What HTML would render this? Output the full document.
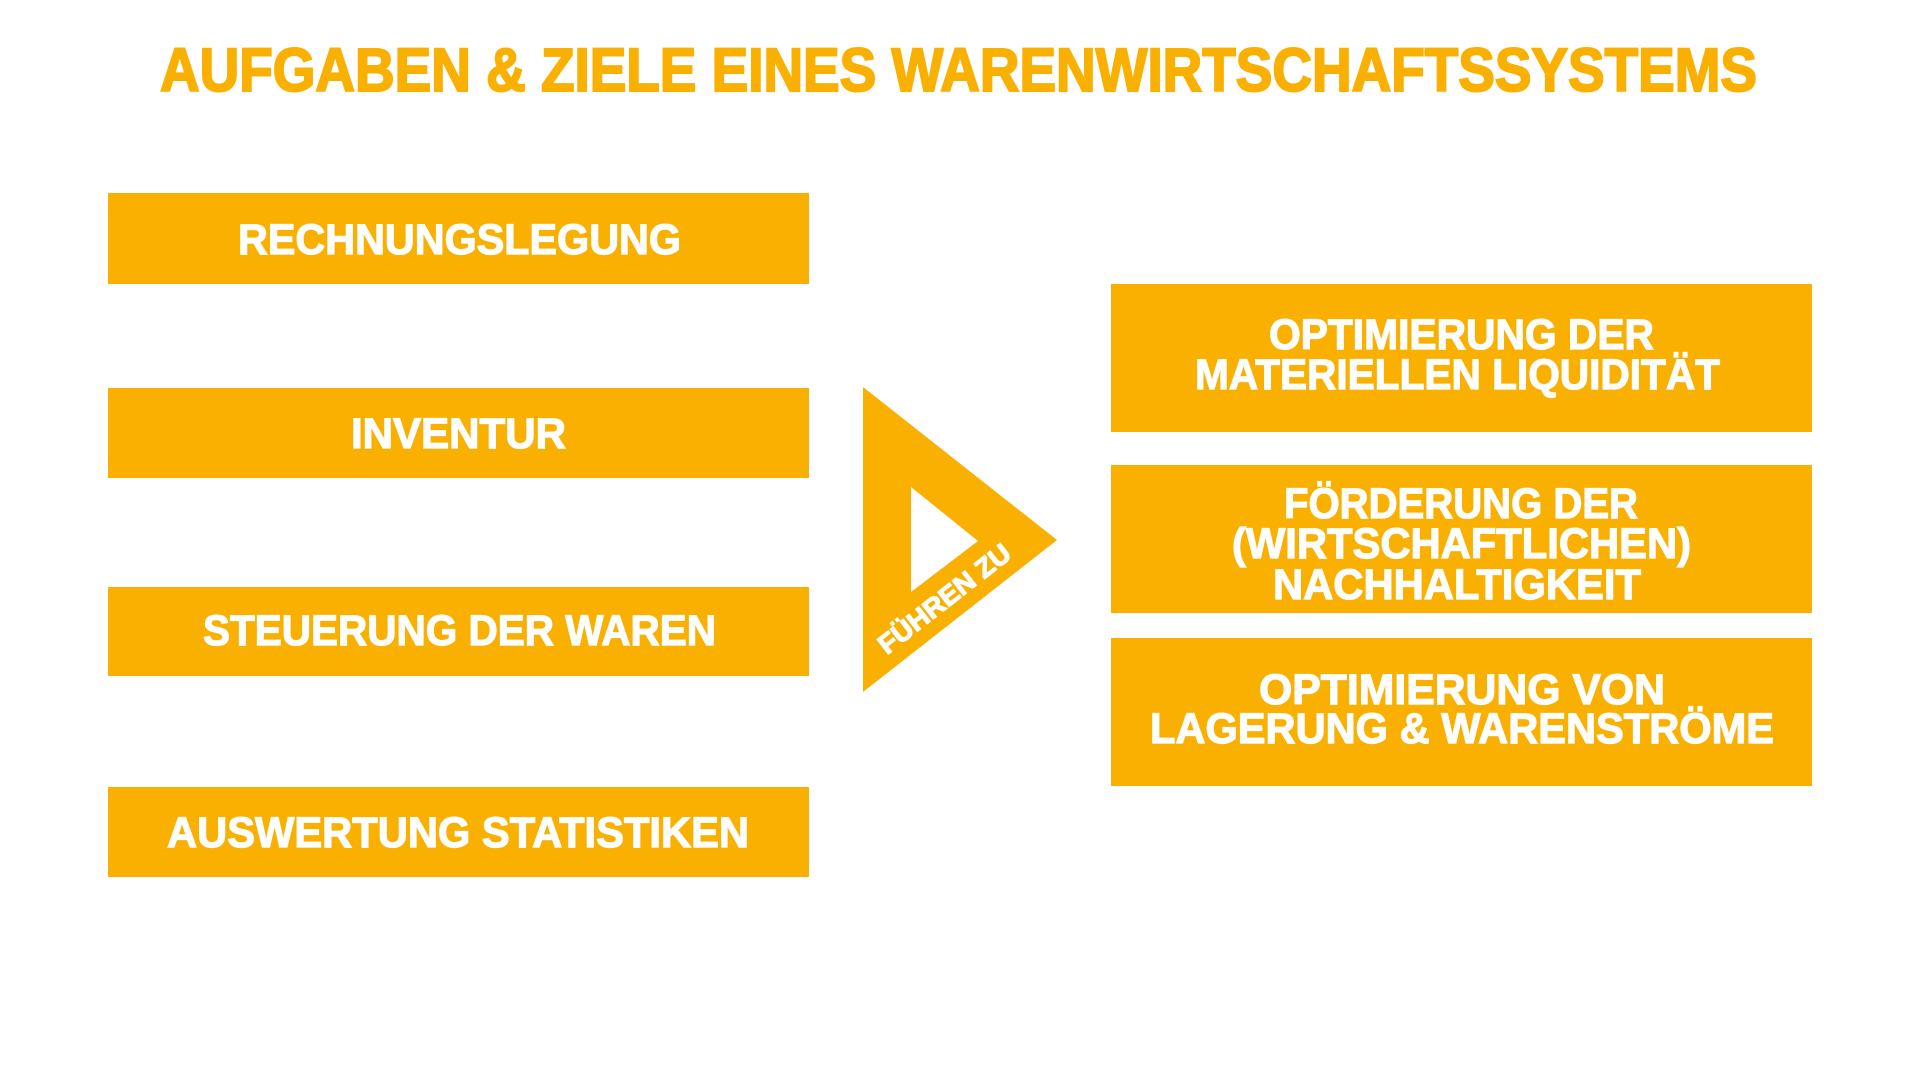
<!DOCTYPE html>
<html><head><meta charset="utf-8"><style>
html,body{margin:0;padding:0;background:#fff;}
svg{display:block}
text{font-family:"Liberation Sans",sans-serif;font-weight:bold;}
</style></head><body>
<svg width="1920" height="1080" viewBox="0 0 1920 1080" xmlns="http://www.w3.org/2000/svg">
<rect width="1920" height="1080" fill="#fff"/>
<text x="160" y="91" font-size="61" fill="#F9B000" stroke="#F9B000" stroke-width="2" textLength="1597" lengthAdjust="spacingAndGlyphs">AUFGABEN &amp; ZIELE EINES WARENWIRTSCHAFTSSYSTEMS</text>
<g fill="#F9B000">
<rect x="108" y="193" width="701" height="91"/>
<rect x="108" y="388" width="701" height="90"/>
<rect x="108" y="587" width="701" height="89"/>
<rect x="108" y="787" width="701" height="90"/>
<rect x="1111" y="284" width="701" height="148"/>
<rect x="1111" y="465" width="701" height="148"/>
<rect x="1111" y="638" width="701" height="148"/>
<path d="M863 387 L1057 540 L863 692 Z M911 487 L911 592 L978 541 Z" fill-rule="evenodd"/>
</g>
<g fill="#fff" stroke="#fff" stroke-width="1.2" font-size="43">
<text x="238" y="254" textLength="443" lengthAdjust="spacingAndGlyphs">RECHNUNGSLEGUNG</text>
<text x="351" y="448" textLength="215" lengthAdjust="spacingAndGlyphs">INVENTUR</text>
<text x="203" y="645" textLength="513" lengthAdjust="spacingAndGlyphs">STEUERUNG DER WAREN</text>
<text x="167" y="847" textLength="582" lengthAdjust="spacingAndGlyphs">AUSWERTUNG STATISTIKEN</text>
<text x="1269" y="349" textLength="385" lengthAdjust="spacingAndGlyphs">OPTIMIERUNG DER</text>
<text x="1195" y="389" textLength="525" lengthAdjust="spacingAndGlyphs">MATERIELLEN LIQUIDITÄT</text>
<text x="1284" y="518" textLength="354" lengthAdjust="spacingAndGlyphs">FÖRDERUNG DER</text>
<text x="1232" y="558" textLength="459" lengthAdjust="spacingAndGlyphs">(WIRTSCHAFTLICHEN)</text>
<text x="1273" y="599" textLength="368" lengthAdjust="spacingAndGlyphs">NACHHALTIGKEIT</text>
<text x="1259" y="704" textLength="406" lengthAdjust="spacingAndGlyphs">OPTIMIERUNG VON</text>
<text x="1150" y="743" textLength="624" lengthAdjust="spacingAndGlyphs">LAGERUNG &amp; WARENSTRÖME</text>
<text x="0" y="0" font-size="27" text-anchor="middle" transform="translate(950 606) rotate(-38)" textLength="160" lengthAdjust="spacingAndGlyphs">FÜHREN ZU</text>
</g>
</svg>
</body></html>
